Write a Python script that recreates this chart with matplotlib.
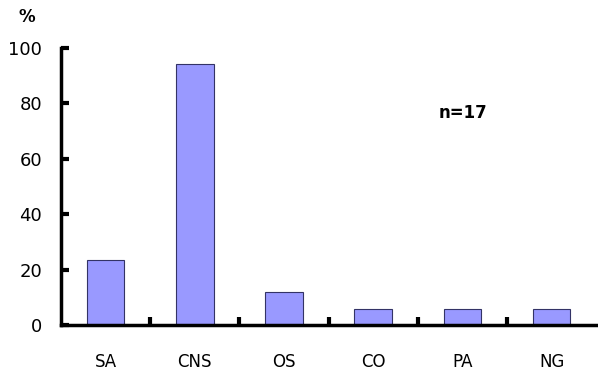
import matplotlib
matplotlib.use("Agg")
import matplotlib.pyplot as plt
import numpy as np

categories = ["SA", "CNS", "OS", "CO", "PA", "NG"]
values = [23.5, 94.1, 11.8, 5.9, 5.9, 5.9]
yticks = [0, 20, 40, 60, 80, 100]

plt.rcParams['font.family'] = ['DejaVu Sans']

fig = plt.figure(figsize=(5.98, 3.71), dpi=100)
ax = fig.add_axes([0.102, 0.124, 0.895, 0.747])

x = np.arange(len(categories))
ax.bar(x, values, width=0.42, color="#9999FF", edgecolor="#333366", linewidth=0.8, zorder=2)

ax.set_xlim(-0.5, len(categories) - 0.5)
ax.set_ylim(0, 100)
ax.set_yticks(yticks)
ax.set_yticklabels([str(v) for v in yticks], fontsize=13)

# category labels without ticks, boundary ticks inward
ax.set_xticks(x)
ax.set_xticklabels(categories, fontsize=12)
ax.tick_params(axis='x', which='major', length=0, pad=20)
ax.set_xticks(np.arange(0.5, len(categories) - 0.5, 1.0), minor=True)
ax.tick_params(axis='x', which='minor', direction='in', length=6, width=3, color='black')
ax.tick_params(axis='y', direction='in', length=6, width=3, pad=13.5)

for s in ['top', 'right']:
    ax.spines[s].set_visible(False)
for s in ['left', 'bottom']:
    ax.spines[s].set_linewidth(2.5)

fig.text(0.045, 0.954, "%", fontsize=12, fontweight='bold', ha='center', va='center')
ax.text(0.752, 0.765, "n=17", transform=ax.transAxes, fontsize=12, fontweight='bold', ha='center', va='center')

fig.savefig("out.png", dpi=100)
